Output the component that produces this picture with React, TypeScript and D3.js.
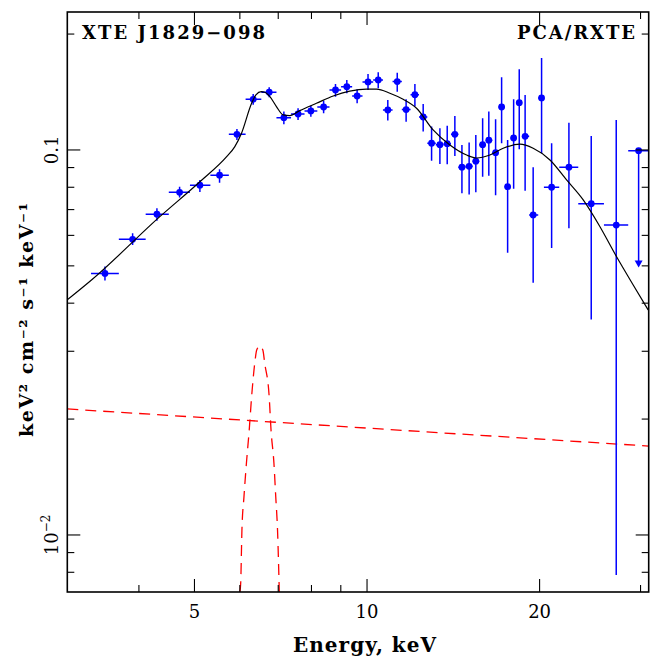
import React from "react";
import * as d3 from "d3";

// ---- Data ----
const energy = [3.49, 3.90, 4.30, 4.71, 5.11, 5.53, 5.93, 6.33, 6.75, 7.16, 7.58, 7.98, 8.40, 8.81, 9.22, 9.61, 10.04, 10.46, 10.87, 11.29, 11.70, 12.12, 12.53, 12.96, 13.40, 13.80, 14.23, 14.64, 15.07, 15.48, 15.91, 16.31, 16.76, 17.17, 17.59, 18.02, 18.43, 18.87, 19.49, 20.16, 20.99, 22.50, 24.61, 27.21, 29.77];
const energyEdges = [3.30, 3.69, 4.11, 4.51, 4.91, 5.33, 5.74, 6.14, 6.54, 6.95, 7.37, 7.78, 8.19, 8.60, 9.01, 9.42, 9.82, 10.25, 10.66, 11.08, 11.50, 11.91, 12.32, 12.74, 13.18, 13.60, 14.01, 14.43, 14.85, 15.28, 15.70, 16.11, 16.54, 16.96, 17.38, 17.80, 18.22, 18.65, 19.18, 19.89, 20.35, 21.64, 23.36, 25.90, 28.55, 31.5];
const flux = [0.0478, 0.0586, 0.0681, 0.0776, 0.0810, 0.0860, 0.1098, 0.1354, 0.1412, 0.1213, 0.1240, 0.1263, 0.1293, 0.1432, 0.1460, 0.1381, 0.1502, 0.1520, 0.1270, 0.1505, 0.1273, 0.1391, 0.1218, 0.1041, 0.1032, 0.1038, 0.1098, 0.0902, 0.0907, 0.0935, 0.1032, 0.1060, 0.0984, 0.1293, 0.0803, 0.1074, 0.1327, 0.1085, 0.0678, 0.1365, 0.0800, 0.0902, 0.0725, 0.0638, 0.0996];
const fluxHi = [0.0498, 0.0608, 0.0706, 0.0803, 0.0836, 0.0891, 0.1134, 0.1398, 0.1456, 0.1258, 0.1283, 0.1303, 0.1343, 0.1484, 0.1520, 0.1438, 0.1576, 0.1592, 0.1349, 0.1588, 0.1354, 0.1484, 0.1317, 0.1150, 0.1139, 0.1155, 0.1226, 0.1030, 0.1045, 0.1094, 0.1209, 0.1258, 0.1202, 0.1545, 0.1062, 0.1354, 0.1621, 0.1390, 0.0902, 0.1734, 0.1041, 0.1177, 0.1087, 0.1197, 0.0996];
const fluxLo = [0.0458, 0.0566, 0.0655, 0.0752, 0.0778, 0.0822, 0.1062, 0.1311, 0.1370, 0.1166, 0.1197, 0.1220, 0.1245, 0.1375, 0.1404, 0.1322, 0.1432, 0.1446, 0.1192, 0.1417, 0.1184, 0.1296, 0.1116, 0.0938, 0.0920, 0.0918, 0.0965, 0.0772, 0.0766, 0.0776, 0.0852, 0.0857, 0.0763, 0.1041, 0.0541, 0.0793, 0.1004, 0.0784, 0.0452, 0.0980, 0.0556, 0.0626, 0.0363, 0.00787, 0.0498];
const upperLimitIndex = [44];

// total model (black)
const modelE = [3.00, 3.31, 4.35, 5.11, 5.69, 5.88, 6.04, 6.29, 6.40, 6.54, 6.63, 6.77, 6.95, 7.14, 7.33, 7.63, 8.16, 8.73, 9.33, 9.98, 10.39, 10.96, 11.56, 12.20, 13.04, 13.95, 14.92, 15.53, 16.38, 17.28, 18.48, 19.49, 20.85, 22.29, 23.83, 25.49, 27.25, 29.13, 30.94];
const modelF = [0.0408, 0.0460, 0.0671, 0.0827, 0.0961, 0.1020, 0.1105, 0.1322, 0.1390, 0.1417, 0.1412, 0.1375, 0.1296, 0.1233, 0.1228, 0.1265, 0.1322, 0.1381, 0.1421, 0.1438, 0.1438, 0.1404, 0.1354, 0.1283, 0.1127, 0.1030, 0.0970, 0.0953, 0.0970, 0.1010, 0.1035, 0.1010, 0.0942, 0.0836, 0.0742, 0.0632, 0.0528, 0.0446, 0.0384];

// continuum component (red dashed)
const contE = [3.0, 10.0, 31.0];
const contF = [0.02125, 0.01895, 0.01702];

// iron line component (red dashed)
const gaussE = [6.00, 6.02, 6.05, 6.10, 6.16, 6.23, 6.29, 6.37, 6.42, 6.50, 6.58, 6.63, 6.75, 6.80, 6.88, 6.93, 6.98, 7.03];
const gaussF = [0.00711, 0.00749, 0.0103, 0.01258, 0.01535, 0.01874, 0.02287, 0.02793, 0.03022, 0.03097, 0.03022, 0.02793, 0.02287, 0.01874, 0.01535, 0.01258, 0.0103, 0.00711];

const xMajor = [5, 10, 20];
const xMajorLabels = ["5", "10", "20"];
const xMinor = [4, 6, 7, 8, 9, 30];
const yMajor = [0.1, 0.01];
const yMinor = [0.2, 0.09, 0.08, 0.07, 0.06, 0.05, 0.04, 0.03, 0.02, 0.009, 0.008];

const W = 651, H = 657;
const L = 67.3, R = 648.7, T = 12, B = 592;

export default function App() {
  const x = d3.scaleLog().domain([3.0, 31.0]).range([L, R]);
  const y = d3.scaleLog().domain([0.00711, 0.2282]).range([B, T]);

  const line = (es: number[], fs: number[], curve: any) =>
    d3.line<number>().x((_, i) => x(es[i])).y((_, i) => y(fs[i])).curve(curve)(es) || "";

  const font = "'DejaVu Serif', serif";
  const blue = "#0000ff";
  const majorLen = 13, minorLen = 7;

  return (
    <svg width={W} height={H} style={{ position: "absolute", left: 0, top: 0, background: "#fff" }}>
      <defs>
        <clipPath id="plotclip">
          <rect x={L} y={T} width={R - L} height={B - T} />
        </clipPath>
      </defs>
      <rect x={0} y={0} width={W} height={H} fill="#fff" />

      <g clipPath="url(#plotclip)">
        {/* components */}
        <path d={line(contE, contF, d3.curveLinear)} fill="none" stroke="#ff0000" strokeWidth={1.3} strokeDasharray="11,7" />
        <path d={line(gaussE, gaussF, d3.curveMonotoneX)} fill="none" stroke="#ff0000" strokeWidth={1.3} strokeDasharray="11,7" />
        {/* data */}
        {energy.map((e, i) => {
          const cx = x(e), cy = y(flux[i]);
          const isUL = upperLimitIndex.includes(i);
          return (
            <g key={i} stroke={blue} strokeWidth={1.5}>
              <line x1={x(energyEdges[i])} x2={x(energyEdges[i + 1])} y1={cy} y2={cy} />
              <line x1={cx} x2={cx} y1={y(fluxHi[i])} y2={y(fluxLo[i]) - (isUL ? 5 : 0)} />
              {isUL && (
                <path d={`M${cx - 4},${y(fluxLo[i]) - 6} L${cx + 4},${y(fluxLo[i]) - 6} L${cx},${y(fluxLo[i]) + 1} Z`} fill={blue} stroke="none" />
              )}
              <circle cx={cx} cy={cy} r={3.4} fill={blue} stroke="none" />
            </g>
          );
        })}
        {/* model */}
        <path d={line(modelE, modelF, d3.curveMonotoneX)} fill="none" stroke="#000" strokeWidth={1.2} />
      </g>

      {/* frame */}
      <rect x={L} y={T} width={R - L} height={B - T} fill="none" stroke="#000" strokeWidth={1.6} />
      {/* x ticks */}
      <g stroke="#000" strokeWidth={1.1}>
        {xMajor.map((v) => (
          <g key={"xM" + v}>
            <line x1={x(v)} x2={x(v)} y1={B} y2={B - majorLen} />
            <line x1={x(v)} x2={x(v)} y1={T} y2={T + majorLen} />
          </g>
        ))}
        {xMinor.map((v) => (
          <g key={"xm" + v}>
            <line x1={x(v)} x2={x(v)} y1={B} y2={B - minorLen} />
            <line x1={x(v)} x2={x(v)} y1={T} y2={T + minorLen} />
          </g>
        ))}
        {yMajor.map((v) => (
          <g key={"yM" + v}>
            <line x1={L} x2={L + majorLen} y1={y(v)} y2={y(v)} />
            <line x1={R} x2={R - majorLen} y1={y(v)} y2={y(v)} />
          </g>
        ))}
        {yMinor.map((v) => (
          <g key={"ym" + v}>
            <line x1={L} x2={L + minorLen} y1={y(v)} y2={y(v)} />
            <line x1={R} x2={R - minorLen} y1={y(v)} y2={y(v)} />
          </g>
        ))}
      </g>

      {/* x tick labels */}
      {xMajor.map((v, i) => (
        <text key={"xl" + v} x={x(v)} y={618} textAnchor="middle" fontFamily={font} fontSize={18}>{xMajorLabels[i]}</text>
      ))}
      {/* y tick labels */}
      <text transform={`translate(58,${y(0.1)}) rotate(-90)`} textAnchor="middle" fontFamily={font} fontSize={18}>0.1</text>
      <text transform={`translate(58,${y(0.01)}) rotate(-90)`} textAnchor="middle" fontFamily={font} fontSize={18}>
        10<tspan fontSize={12} dy={-8}>−2</tspan>
      </text>

      {/* axis titles */}
      <text x={364.5} y={652} textAnchor="middle" fontFamily={font} fontSize={20} fontWeight="bold" textLength={143} lengthAdjust="spacing">Energy, keV</text>
      <text transform="translate(33,320) rotate(-90)" textAnchor="middle" fontFamily={font} fontSize={19} fontWeight="bold" textLength={234} lengthAdjust="spacing">keV² cm⁻² s⁻¹ keV⁻¹</text>

      {/* labels */}
      <text x={82} y={39} fontFamily={font} fontSize={18} fontWeight="bold" textLength={183} lengthAdjust="spacing">XTE J1829−098</text>
      <text x={517} y={39} fontFamily={font} fontSize={18} fontWeight="bold" textLength={118} lengthAdjust="spacing">PCA/RXTE</text>
    </svg>
  );
}
